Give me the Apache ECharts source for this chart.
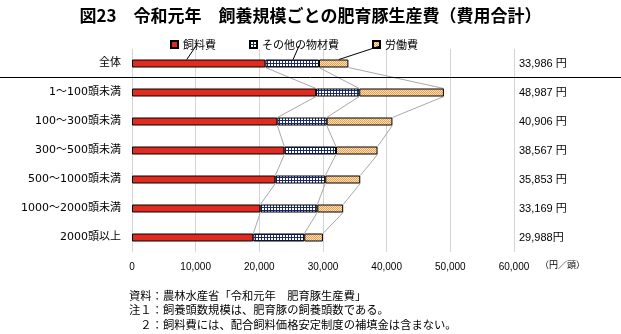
<!DOCTYPE html>
<html><head><meta charset="utf-8">
<script src="https://cdn.jsdelivr.net/npm/echarts@6/dist/echarts.min.js"></script>
<style>html,body{margin:0;padding:0;background:#fff}#c{width:621px;height:334px}</style>
</head><body><div id="c"></div>
<script>
const categories = ['全体','1～100頭未満','100～300頭未満','300～500頭未満','500～1000頭未満','1000～2000頭未満','2000頭以上'];
const feed  = [20960, 28900, 22830, 23930, 22510, 20160, 19050];
const other = [8410, 6800, 7750, 8110, 7850, 8950, 8010];
const labor = [4616, 13287, 10326, 6527, 5493, 4059, 2928];
const totalLabels = ['33,986 円','48,987 円','40,906 円','38,567 円','35,853 円','33,169 円','29,988円'];
const xTicks = {min: 0, max: 60000, interval: 10000};
const seriesNames = ['飼料費','その他の物材費','労働費'];
const notes = ['資料：農林水産省「令和元年　肥育豚生産費」','注１：飼養頭数規模は、肥育豚の飼養頭数である。','　２：飼料費には、配合飼料価格安定制度の補填金は含まない。'];

const JP = '"Noto Sans CJK JP", sans-serif';
function pat(kind){
  const c = document.createElement('canvas');
  const ctx = c.getContext('2d');
  if(kind==='grid'){
    c.width=3;c.height=3;
    ctx.fillStyle='#ffffff';ctx.fillRect(0,0,3,3);
    ctx.fillStyle='#1c2b6e';ctx.fillRect(0,0,3,1);ctx.fillRect(0,0,1,3);
  } else {
    c.width=2;c.height=2;
    ctx.fillStyle='#fbe2bb';ctx.fillRect(0,0,2,2);
    ctx.fillStyle='#e5a054';ctx.fillRect(0,0,1,1);ctx.fillRect(1,1,1,1);
  }
  return {image:c, repeat:'repeat'};
}
const colors = ['#e02b20', pat('grid'), pat('dots')];

const cum = categories.map((_,i)=>[feed[i], feed[i]+other[i], feed[i]+other[i]+labor[i]]);
const lineData = [];
for(let k=0;k<3;k++) for(let i=0;i<categories.length-1;i++) lineData.push([cum[i][k], i, cum[i+1][k], i+1]);

const HALF = 4;
const chart = echarts.init(document.getElementById('c'), null, {renderer:'canvas'});
const barSeries = [feed, other, labor].map((d,k)=>({
  name: seriesNames[k], type:'bar', stack:'s', data:d, barWidth:8, z:3,
  itemStyle:{color:colors[k], borderColor:'#000', borderWidth:1},
  emphasis:{disabled:true}
}));
chart.setOption({
  animation:false,
  title:{text:'図23　令和元年　飼養規模ごとの肥育豚生産費（費用合計）', left:'center', top:2,
    textStyle:{fontFamily:JP, fontSize:17, fontWeight:'bold', color:'#000'}},
  legend:{data:seriesNames.map(n=>({name:n, icon:'rect'})), left:165, top:34, itemWidth:7, itemHeight:7, itemGap:33,
    textStyle:{fontFamily:JP, fontSize:11, color:'#000'}, selectedMode:false},
  grid:{left:132, right:107, top:49, height:203, containLabel:false},
  xAxis:{type:'value', min:xTicks.min, max:xTicks.max, interval:xTicks.interval,
    axisLine:{show:false}, axisTick:{show:false},
    splitLine:{lineStyle:{color:'#d4d4d4', width:1}},
    axisLabel:{margin:10, fontFamily:'"Liberation Sans", sans-serif', fontSize:10, color:'#000',
      formatter:v=>v.toLocaleString('en-US')}},
  yAxis:{type:'category', data:categories, inverse:true,
    axisLine:{show:false}, axisTick:{show:false},
    axisLabel:{margin:11, color:'#000', fontSize:11, fontFamily:'"DejaVu Sans", "Noto Sans CJK JP", sans-serif'}},
  series:[
    ...barSeries,
    {type:'custom', z:2, silent:true, data:lineData, encode:{x:[0,2], y:[1,3]},
      renderItem:(p,api)=>{
        const a = api.coord([api.value(0), api.value(1)]);
        const b = api.coord([api.value(2), api.value(3)]);
        return {type:'line', shape:{x1:a[0], y1:a[1]+HALF, x2:b[0], y2:b[1]-HALF},
          style:{stroke:'#a8a8a8', lineWidth:1}};
      }},
    {type:'custom', z:4, silent:true, data:categories.map((c,i)=>[xTicks.max, i]),
      renderItem:(p,api)=>{
        const a = api.coord([api.value(0), api.value(1)]);
        return {type:'text', x:a[0]+5, y:a[1],
          style:{text:totalLabels[p.dataIndex], fill:'#000', font:'11px "Liberation Sans", "Noto Sans CJK JP", sans-serif', textVerticalAlign:'middle'}};
      }}
  ]
});

const y0 = chart.convertToPixel({gridIndex:0}, [0, 0])[1] - HALF;
const leadStarts = [8600, 25300, 32500];
const leadEnds = [[196,46],[299,46],[380,46]];
const gfx = leadStarts.map((v,k)=>{
  const x = chart.convertToPixel({gridIndex:0}, [v, 0])[0];
  return {type:'line', z:10, shape:{x1:x, y1:y0, x2:leadEnds[k][0], y2:leadEnds[k][1]}, style:{stroke:'#000', lineWidth:1}};
});
gfx.push({type:'line', z:10, shape:{x1:0, y1:77.5, x2:621, y2:77.5}, style:{stroke:'#000', lineWidth:1}});
gfx.push({type:'text', left:540, top:260, style:{text:'（円／頭）', font:'9px "Noto Sans CJK JP", sans-serif', fill:'#000'}});
notes.forEach((t,i)=>gfx.push({type:'text', left:129, top:290 + i*14.5, style:{text:t, font:'11.3px "Noto Sans CJK JP", sans-serif', fill:'#000'}}));
chart.setOption({graphic:gfx});
</script></body></html>
